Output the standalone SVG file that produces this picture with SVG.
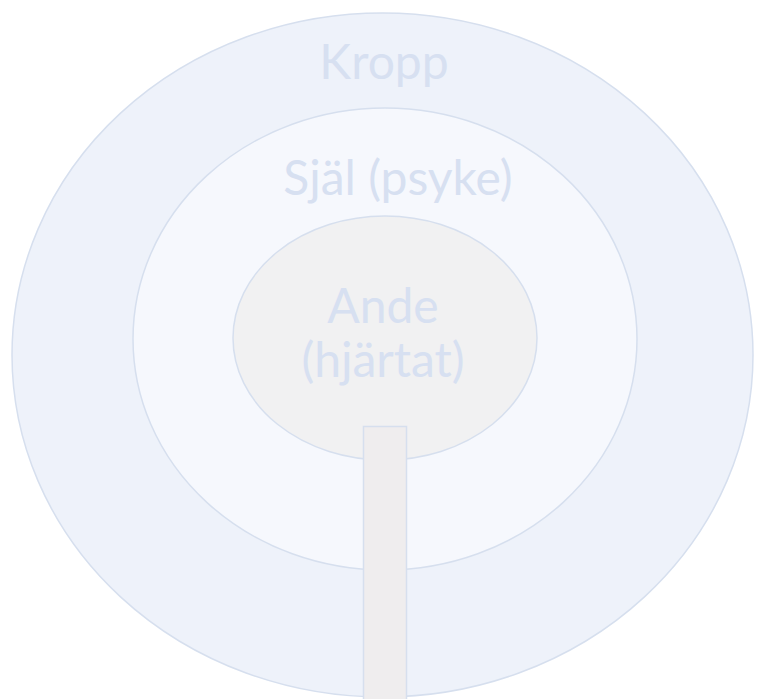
<svg xmlns="http://www.w3.org/2000/svg" width="764" height="699" viewBox="0 0 764 699">
<style>
.lbl{font-family:Lato,"Open Sans","Liberation Sans",sans-serif;font-size:48px;fill:#D7E0F1;text-anchor:middle}
.ring{stroke:#D6DFEE;stroke-width:1.5}
</style>
<rect width="764" height="699" fill="#FFFFFF"/>
<g id="kropp">
<ellipse class="ring" cx="382.5" cy="355" rx="370.5" ry="342" fill="#EEF2FA"/>
<text class="lbl" x="384" y="79">Kropp</text>
</g>
<g id="sjal">
<ellipse class="ring" cx="385" cy="339" rx="252" ry="231" fill="#F6F8FD"/>
<text class="lbl" x="398" y="195">Själ (psyke)</text>
</g>
<g id="ande">
<ellipse class="ring" cx="385" cy="338" rx="152" ry="122" fill="#F1F1F2"/>
<text class="lbl" x="383" y="323">Ande</text>
<text class="lbl" x="383" y="377">(hjärtat)</text>
</g>
<g id="connectors">
<rect id="stem" class="ring" x="363.5" y="426.5" width="43" height="275" fill="#EFEDEE"/>
</g>
</svg>
